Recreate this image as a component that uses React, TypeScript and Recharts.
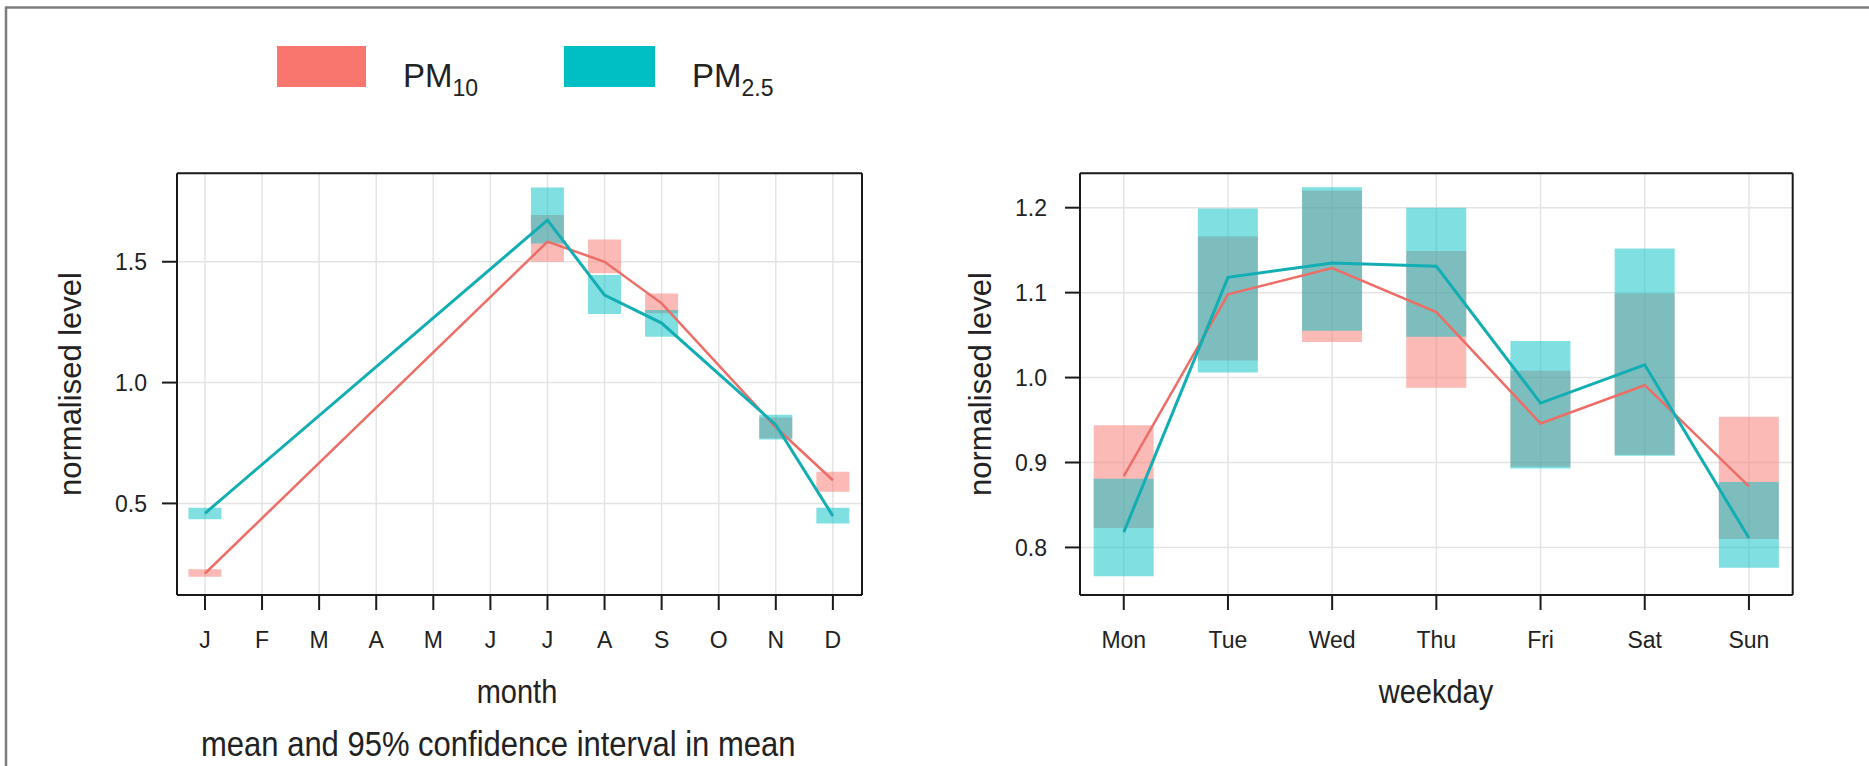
import React from 'react';
import { ComposedChart, Bar, Line, XAxis, YAxis, CartesianGrid } from 'recharts';

const FONT = '"Liberation Sans", Arial, Helvetica, sans-serif';
const RED = '#F8766D';
const TEAL = '#00BFC4';
const RED_LINE = '#EC6E67';
const TEAL_LINE = '#12AEB3';

// monthly means and 95% CI (missing months have no data)
const months = ['J', 'F', 'M', 'A', 'M', 'J', 'J', 'A', 'S', 'O', 'N', 'D'];
const pm10Month = [0.21, null, null, null, null, null, 1.583, 1.5, 1.328, null, 0.815, 0.596];
const pm10MonthLow = [0.197, null, null, null, null, null, 1.5, 1.452, 1.287, null, 0.77, 0.548];
const pm10MonthHigh = [0.228, null, null, null, null, null, 1.693, 1.592, 1.369, null, 0.855, 0.631];
const pm25Month = [0.459, null, null, null, null, null, 1.672, 1.362, 1.246, null, 0.825, 0.448];
const pm25MonthLow = [0.434, null, null, null, null, null, 1.576, 1.284, 1.19, null, 0.764, 0.417];
const pm25MonthHigh = [0.482, null, null, null, null, null, 1.807, 1.445, 1.3, null, 0.867, 0.482];
const monthYTicks = [0.5, 1.0, 1.5];

// weekday means and 95% CI
const days = ['Mon', 'Tue', 'Wed', 'Thu', 'Fri', 'Sat', 'Sun'];
const pm10Day = [0.884, 1.098, 1.129, 1.077, 0.946, 0.991, 0.872];
const pm10DayLow = [0.823, 1.02, 1.042, 0.988, 0.895, 0.909, 0.81];
const pm10DayHigh = [0.944, 1.166, 1.22, 1.149, 1.008, 1.099, 0.954];
const pm25Day = [0.818, 1.118, 1.135, 1.131, 0.97, 1.015, 0.811];
const pm25DayLow = [0.766, 1.006, 1.055, 1.048, 0.893, 0.908, 0.776];
const pm25DayHigh = [0.881, 1.199, 1.224, 1.2, 1.043, 1.152, 0.877];
const dayYTicks = [0.8, 0.9, 1.0, 1.1, 1.2];

function buildRows(mean10, lo10, hi10, mean25, lo25, hi25) {
  return mean10.map((v, i) => ({
    x: i,
    pm10: v,
    pm25: mean25[i],
    pm10Ci: lo10[i] == null ? null : [lo10[i], hi10[i]],
    pm25Ci: lo25[i] == null ? null : [lo25[i], hi25[i]],
  }));
}

const monthRows = buildRows(pm10Month, pm10MonthLow, pm10MonthHigh, pm25Month, pm25MonthLow, pm25MonthHigh);
const dayRows = buildRows(pm10Day, pm10DayLow, pm10DayHigh, pm25Day, pm25DayLow, pm25DayHigh);

const axisLine = { stroke: '#1a1a1a', strokeWidth: 2 };
const tickStyle = { fill: '#222', fontSize: 23, fontFamily: FONT };

function Panel({ rows, labels, xDomain, yDomain, yTicks, width, yAxisWidth, marginRight, barSize, yTickMargin }) {
  const xTicks = labels.map((_, i) => i);
  return (
    <ComposedChart
      width={width}
      height={766}
      data={rows}
      margin={{ top: 143.3, right: marginRight, bottom: 111, left: 0 }}
    >
      <CartesianGrid xAxisId="b" yAxisId="l" stroke="#e4e4e4" strokeWidth={1.5} />
      <XAxis
        xAxisId="b"
        dataKey="x"
        type="number"
        domain={xDomain}
        ticks={xTicks}
        allowDataOverflow
        tickFormatter={(i) => labels[i]}
        height={60}
        tickSize={15}
        tickMargin={22}
        axisLine={axisLine}
        tickLine={axisLine}
        tick={tickStyle}
      />
      <XAxis
        xAxisId="t"
        orientation="top"
        dataKey="x"
        type="number"
        domain={xDomain}
        ticks={xTicks}
        allowDataOverflow
        height={30}
        tickSize={15}
        axisLine={axisLine}
        tickLine={axisLine}
        tick={false}
      />
      <XAxis xAxisId="r" dataKey="x" type="number" domain={xDomain} allowDataOverflow hide />
      <XAxis xAxisId="c" dataKey="x" type="number" domain={xDomain} allowDataOverflow hide />
      <YAxis
        yAxisId="l"
        type="number"
        domain={yDomain}
        ticks={yTicks}
        allowDataOverflow
        tickFormatter={(v) => v.toFixed(1)}
        width={yAxisWidth}
        tickSize={15}
        tickMargin={yTickMargin}
        axisLine={axisLine}
        tickLine={axisLine}
        tick={tickStyle}
      />
      <YAxis
        yAxisId="rr"
        orientation="right"
        type="number"
        domain={yDomain}
        ticks={yTicks}
        allowDataOverflow
        width={20}
        tickSize={15}
        axisLine={axisLine}
        tickLine={axisLine}
        tick={false}
      />
      <Bar xAxisId="r" yAxisId="l" dataKey="pm10Ci" fill={RED} fillOpacity={0.5} barSize={barSize} isAnimationActive={false} />
      <Line xAxisId="b" yAxisId="l" dataKey="pm10" stroke={RED_LINE} strokeWidth={2.5} dot={false} connectNulls isAnimationActive={false} />
      <Bar xAxisId="c" yAxisId="l" dataKey="pm25Ci" fill={TEAL} fillOpacity={0.5} barSize={barSize} isAnimationActive={false} />
      <Line xAxisId="b" yAxisId="l" dataKey="pm25" stroke={TEAL_LINE} strokeWidth={3} dot={false} connectNulls isAnimationActive={false} />
    </ComposedChart>
  );
}

export default function App() {
  return (
    <div style={{ position: 'absolute', left: 0, top: 0, width: 1869, height: 766, background: '#fff', overflow: 'hidden' }}>
      <div style={{ position: 'absolute', left: 0, top: 0 }}>
        <Panel
          rows={monthRows}
          labels={months}
          xDomain={[-0.49, 11.51]}
          yDomain={[0.121, 1.866]}
          yTicks={monthYTicks}
          width={940}
          yAxisWidth={177}
          marginRight={58}
          barSize={33}
          yTickMargin={15}
        />
      </div>
      <div style={{ position: 'absolute', left: 940, top: 0 }}>
        <Panel
          rows={dayRows}
          labels={days}
          xDomain={[-0.42, 6.42]}
          yDomain={[0.744, 1.2405]}
          yTicks={dayYTicks}
          width={929}
          yAxisWidth={140}
          marginRight={56.3}
          barSize={60}
          yTickMargin={18}
        />
      </div>
      <svg
        width={1869}
        height={766}
        style={{ position: 'absolute', left: 0, top: 0, pointerEvents: 'none' }}
        fontFamily={FONT}
        fill="#222"
      >
        <line x1={6} y1={7.5} x2={1869} y2={7.5} stroke="#7d7d7d" strokeWidth={2.5} />
        <line x1={6} y1={6.5} x2={6} y2={766} stroke="#7d7d7d" strokeWidth={2.5} />

        <rect x={277} y={46} width={89} height={41} fill={RED} />
        <text x={403} y={87} fontSize={33}>
          PM<tspan fontSize={23} dy={9}>10</tspan>
        </text>
        <rect x={564} y={46} width={91} height={41} fill={TEAL} />
        <text x={692} y={87} fontSize={33}>
          PM<tspan fontSize={23} dy={9}>2.5</tspan>
        </text>

        <text transform="translate(81,384) rotate(-90)" textAnchor="middle" fontSize={31}>normalised level</text>
        <text transform="translate(991,384) rotate(-90)" textAnchor="middle" fontSize={31}>normalised level</text>

        <text transform="translate(517,703) scale(1,1.15)" textAnchor="middle" fontSize={29}>month</text>
        <text transform="translate(1436,703) scale(1,1.15)" textAnchor="middle" fontSize={29}>weekday</text>
        <text transform="translate(201,756) scale(1,1.14)" fontSize={31}>mean and 95% confidence interval in mean</text>
      </svg>
    </div>
  );
}
